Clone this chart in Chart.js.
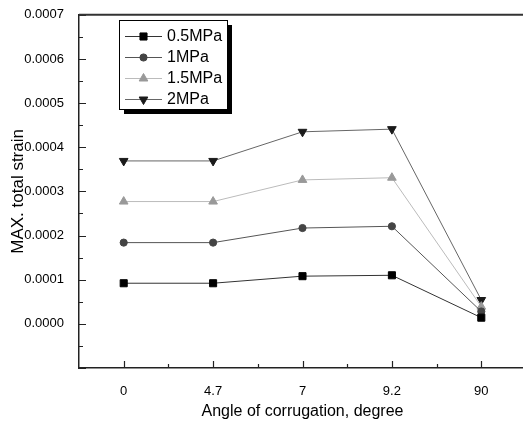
<!DOCTYPE html>
<html>
<head>
<meta charset="utf-8">
<script src="https://cdn.jsdelivr.net/npm/chart.js@4/dist/chart.umd.min.js"></script>
<style>
  html, body { margin: 0; padding: 0; background: #fff; overflow: hidden; }
  #wrap { width: 523px; height: 424px; overflow: hidden; }
</style>
</head>
<body>
<div id="wrap"><canvas id="grafico" width="532" height="424"></canvas></div>
<script>
// categorias del eje x (angulo de corrugacion)
const angulos = ['0', '4.7', '7', '9.2', '90']
// ticks del eje y
const yTicks = [0, 0.0001, 0.0002, 0.0003, 0.0004, 0.0005, 0.0006, 0.0007]

// series (deformacion total maxima)
const serie05 = [0.000092, 0.000092, 0.000108, 0.000110, 0.000014]
const serie1 = [0.000184, 0.000184, 0.000217, 0.000221, 0.000028]
const serie15 = [0.000277, 0.000277, 0.000326, 0.000331, 0.000039]
const serie2 = [0.000369, 0.000369, 0.000435, 0.000441, 0.000054]

const nombres = ['0.5MPa', '1MPa', '1.5MPa', '2MPa']

const toXY = arr => arr.map((v, i) => ({ x: i, y: v }))
const FONT = 'Liberation Sans, Arial, sans-serif'

const estilos = [
    { line: '#333', fill: '#000', style: 'rect', r: 5, rot: 0 },
    { line: '#555', fill: '#444', style: 'circle', r: 3.6, rot: 0 },
    { line: '#bbb', fill: '#999', style: 'triangle', r: 5, rot: 0 },
    { line: '#666', fill: '#1a1a1a', style: 'triangle', r: 5, rot: 180 }
]

const datasets = [serie05, serie1, serie15, serie2].map((s, i) => ({
    label: nombres[i],
    data: toXY(s),
    borderColor: estilos[i].line,
    borderWidth: 1,
    pointStyle: estilos[i].style,
    pointRotation: estilos[i].rot,
    pointRadius: estilos[i].r,
    pointBackgroundColor: estilos[i].fill,
    pointBorderColor: estilos[i].fill,
    pointBorderWidth: 1,
    tension: 0
}))

//PLUGIN PARA TICKS HACIA DENTRO Y BORDE SUPERIOR
const ticksDentro = {
    id: 'ticksDentro',
    afterDatasetsDraw(chart) {
        const { ctx, chartArea: a, scales: { x, y } } = chart
        ctx.save()
        ctx.strokeStyle = '#222'
        ctx.lineWidth = 1.2
        ctx.beginPath()
        // eje y
        for (let k = 0; k <= 16; k++) {
            const v = -0.0001 + k * 0.00005
            const py = Math.round(y.getPixelForValue(v)) + 0.5
            ctx.moveTo(a.left, py)
            ctx.lineTo(a.left + (k % 2 === 0 ? 7 : 4), py)
        }
        // eje x
        angulos.forEach((c, i) => {
            const px = Math.round(x.getPixelForValue(i)) + 0.5
            ctx.moveTo(px, a.bottom)
            ctx.lineTo(px, a.bottom - 7)
            const pm = Math.round(x.getPixelForValue(i + 0.5)) + 0.5
            ctx.moveTo(pm, a.bottom)
            ctx.lineTo(pm, a.bottom - 4)
        })
        ctx.stroke()
        // borde superior
        ctx.lineWidth = 2
        ctx.strokeStyle = '#333'
        ctx.beginPath()
        ctx.moveTo(a.left, a.top)
        ctx.lineTo(a.right, a.top)
        ctx.stroke()
        ctx.restore()
    }
}

//PLUGIN PARA LA LEYENDA CON SOMBRA
const leyenda = {
    id: 'leyenda',
    afterDraw(chart) {
        const { ctx } = chart
        const bx = 119, by = 20, bw = 108, bh = 89
        ctx.save()
        ctx.fillStyle = '#000'
        ctx.fillRect(bx + 5, by + 5, bw, bh)
        ctx.fillStyle = '#fff'
        ctx.fillRect(bx, by, bw, bh)
        ctx.strokeStyle = '#000'
        ctx.lineWidth = 1
        ctx.strokeRect(bx + 0.5, by + 0.5, bw, bh)
        chart.data.datasets.forEach((ds, i) => {
            const yy = 36 + i * 21
            ctx.strokeStyle = ds.borderColor
            ctx.lineWidth = 1
            ctx.beginPath()
            ctx.moveTo(125, yy + 0.5)
            ctx.lineTo(162, yy + 0.5)
            ctx.stroke()
            ctx.fillStyle = ds.pointBackgroundColor
            ctx.strokeStyle = ds.pointBorderColor
            Chart.helpers.drawPoint(ctx, {
                pointStyle: ds.pointStyle,
                rotation: ds.pointRotation,
                radius: ds.pointRadius,
                borderWidth: 1
            }, 143.5, yy + 0.5)
            ctx.fillStyle = '#000'
            ctx.font = '16px ' + FONT
            ctx.textBaseline = 'middle'
            ctx.textAlign = 'left'
            ctx.fillText(ds.label, 167, yy + 1)
        })
        ctx.restore()
    }
}

const ctx = document.querySelector('#grafico').getContext('2d')
new Chart(ctx, {
    type: 'line',
    data: { datasets },
    plugins: [ticksDentro, leyenda],
    options: {
        responsive: false,
        animation: false,
        layout: { padding: { top: 13, right: 0, left: 0, bottom: 0 } },
        plugins: { legend: { display: false }, tooltip: { enabled: false } },
        scales: {
            x: {
                type: 'linear',
                min: -0.5,
                max: 4.5,
                afterBuildTicks: s => { s.ticks = angulos.map((c, i) => ({ value: i })) },
                afterFit: s => { s.height = 56 },
                ticks: {
                    callback: v => angulos[v],
                    color: '#000',
                    font: { family: FONT, size: 13 },
                    padding: 8,
                    maxRotation: 0,
                    autoSkip: false
                },
                grid: { display: false },
                border: { display: true, color: '#222', width: 1.5 },
                title: {
                    display: true,
                    text: 'Angle of corrugation, degree',
                    color: '#000',
                    font: { family: FONT, size: 16 },
                    padding: { top: 4, bottom: 3 }
                }
            },
            y: {
                min: -0.0001,
                max: 0.0007,
                afterBuildTicks: s => { s.ticks = yTicks.map(v => ({ value: v })) },
                afterFit: s => { s.width = 79 },
                ticks: {
                    callback: v => v.toFixed(4),
                    color: '#000',
                    font: { family: FONT, size: 13 },
                    padding: 7
                },
                grid: { display: false },
                border: { display: true, color: '#222', width: 1.5 },
                title: {
                    display: true,
                    text: 'MAX. total strain',
                    color: '#000',
                    font: { family: FONT, size: 17 },
                    padding: { top: 8, bottom: 4 }
                }
            }
        }
    }
})
</script>
</body>
</html>
